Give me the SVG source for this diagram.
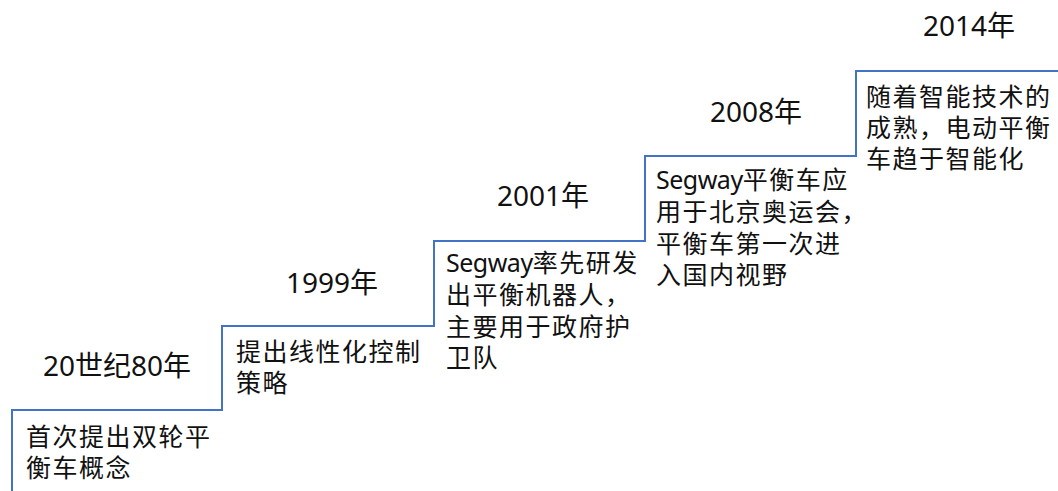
<svg xmlns="http://www.w3.org/2000/svg" width="1058" height="491" viewBox="0 0 1058 491">
<style>
.year{font-family:"Noto Sans","Noto Sans CJK SC",sans-serif;font-size:28px;fill:#111;text-anchor:middle}
.desc{font-family:"Noto Sans","Noto Sans CJK SC",sans-serif;font-size:25px;fill:#111;letter-spacing:1.5px}
.latin{letter-spacing:-0.5px}
.stair{fill:none;stroke:#4472C4;stroke-width:2}
</style>
<rect width="1058" height="491" fill="#fff"/>
<g id="connectors">
<path class="stair" d="M12,491 V410 H222 V326 H434 V241 H645 V156 H856 V71 H1058"/>
</g>
<g id="step-1980s">
<text class="year" x="117" y="376">20世纪80年</text>
<text class="desc" x="26" y="446"><tspan x="26" y="446">首次提出双轮平</tspan><tspan x="26" y="477">衡车概念</tspan></text>
</g>
<g id="step-1999">
<text class="year" x="332" y="293">1999年</text>
<text class="desc" x="236" y="361"><tspan x="236" y="361">提出线性化控制</tspan><tspan x="236" y="392">策略</tspan></text>
</g>
<g id="step-2001">
<text class="year" x="543" y="206">2001年</text>
<text class="desc" x="446" y="272"><tspan x="446" y="272"><tspan class="latin">Segway</tspan>率先研发</tspan><tspan x="446" y="304">出平衡机器人，</tspan><tspan x="446" y="336">主要用于政府护</tspan><tspan x="446" y="367">卫队</tspan></text>
</g>
<g id="step-2008">
<text class="year" x="756" y="122">2008年</text>
<text class="desc" x="656" y="189"><tspan x="656" y="189"><tspan class="latin">Segway</tspan>平衡车应</tspan><tspan x="656" y="221">用于北京奥运会，</tspan><tspan x="656" y="253">平衡车第一次进</tspan><tspan x="656" y="284">入国内视野</tspan></text>
</g>
<g id="step-2014">
<text class="year" x="969" y="36">2014年</text>
<text class="desc" x="866" y="106"><tspan x="866" y="106">随着智能技术的</tspan><tspan x="866" y="137">成熟，电动平衡</tspan><tspan x="866" y="168">车趋于智能化</tspan></text>
</g>
</svg>
